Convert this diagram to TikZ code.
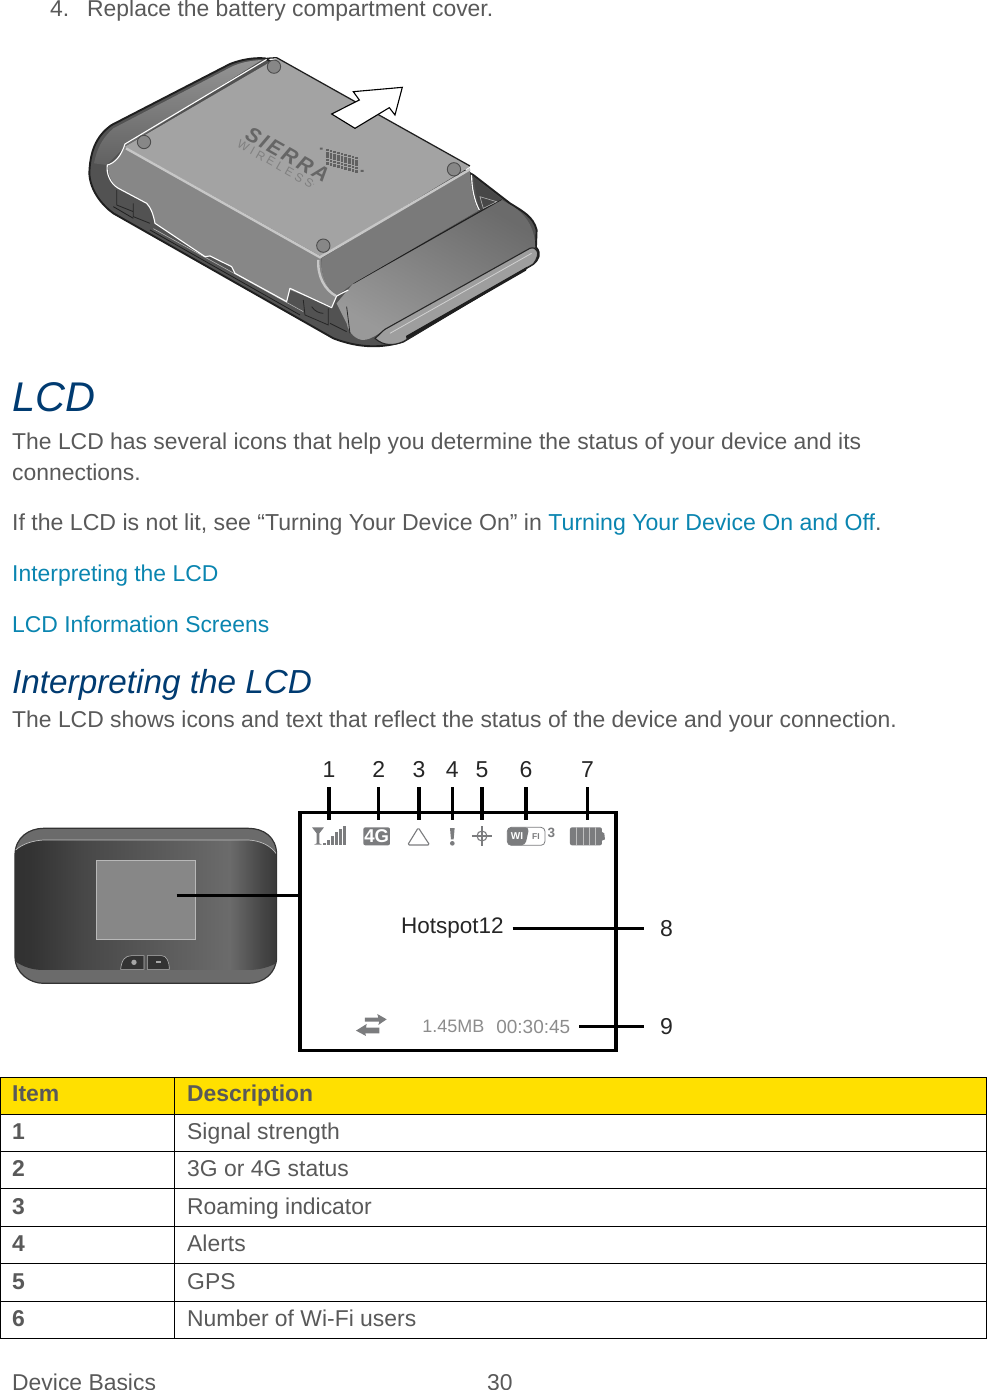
\documentclass[tikz,border=0pt]{standalone}
\usepackage{fontspec}
\setmainfont{Liberation Sans}
\usetikzlibrary{calc}
\definecolor{txt}{HTML}{595959}
\definecolor{head}{HTML}{003B71}
\definecolor{linkc}{HTML}{0A85B0}
\definecolor{yel}{HTML}{FFE000}
\definecolor{icon}{HTML}{7B7C7E}
\pgfdeclarehorizontalshading{devshade}{100bp}{
 color(0bp)=(black!85);color(28bp)=(black!80);color(38bp)=(black!72);color(58bp)=(black!62);color(66bp)=(black!58);color(72bp)=(black!72);color(76bp)=(black!80);color(100bp)=(black!90)}
\tikzset{
 body/.style={anchor=base west,inner sep=0pt,text=txt,font=\fontsize{22.9}{28}\selectfont},
 linkt/.style={body,text=linkc},
 h1t/.style={anchor=base west,inner sep=0pt,text=head,font=\fontsize{41.5}{44}\selectfont\itshape},
 h2t/.style={anchor=base west,inner sep=0pt,text=head,font=\fontsize{33.3}{38}\selectfont\itshape},
 cellb/.style={body,font=\fontsize{22.9}{28}\selectfont\bfseries},
 calln/.style={inner sep=0pt,text=black!85,font=\fontsize{23}{26}\selectfont},
 callout/.style={line width=3.6pt,black},
 grid/.style={line width=1pt,black},
 lcdt/.style={inner sep=0pt,text=black!45,font=\fontsize{19}{22}\selectfont},
 screw/.style={fill=black!47,draw=black!70,line width=.9pt},
 edgew/.style={white,line width=1.1pt,line join=round},
 ridge/.style={black!22,line width=2.4pt},
}
\begin{document}
\begin{tikzpicture}[x=1pt,y=-1pt]
\useasboundingbox (0,0) rectangle (987,1390);
\clip (0,0) rectangle (987,1390);
\fill[white] (0,0) rectangle (987,1390);
% --- page text
\node[body] (item4) at (50,16) {4.};
\node[body] (item4t) at (87,16) {Replace the battery compartment cover.};
\node[h1t] (lcdh) at (12,411) {LCD};
\node[body] (p1) at (12,449) {The LCD has several icons that help you determine the status of your device and its};
\node[body] (p1b) at (12,480) {connections.};
\node[body,font=\fontsize{23.1}{28}\selectfont] (p2) at (12,530) {If the LCD is not lit, see “Turning Your Device On” in \textcolor{linkc}{Turning Your Device On and Off}.};
\node[linkt] (l1) at (12,581) {Interpreting the LCD};
\node[linkt] (l2) at (12,632) {LCD Information Screens};
\node[h2t] (inth) at (12,693) {Interpreting the LCD};
\node[body] (p3) at (12,727) {The LCD shows icons and text that reflect the status of the device and your connection.};
% --- device, back view
\begin{scope}[shift={(70,40)},x=.3333pt,y=-.3333pt]
 \path[fill=black!68,draw=black!88,line width=1.9pt,line join=round] (585,55)
   .. controls (550,52) and (510,60) .. (480,72) -- (125,255)
   .. controls (75,290) and (60,340) .. (58,400)
   .. controls (60,450) and (95,495) .. (130,520) -- (790,895)
   .. controls (850,918) and (920,930) .. (1000,905) -- (1390,672)
   .. controls (1405,660) and (1415,640) .. (1398,622)
   -- (1400,570) .. controls (1390,530) and (1360,515) .. (1320,490) -- (1210,405) -- cycle;
 % lighter left band
 \shade[top color=black!42,bottom color=black!62] (575,60) .. controls (540,62) and (510,68) .. (485,80) -- (130,265)
   .. controls (95,295) and (80,330) .. (72,370) -- (110,375) -- (165,320) -- cycle;
 % lower right panel
 \shade[top color=black!58,bottom color=black!40,shading angle=-30] (850,730) -- (1225,515) -- (1295,480)
   -- (1330,500) .. controls (1375,530) and (1395,570) .. (1396,622)
   -- (945,868) .. controls (920,885) and (905,898) .. (880,900)
   .. controls (860,900) and (835,880) .. (830,850) -- (800,790) -- cycle;
 \draw[black!88,line width=1.2pt] (850,730) -- (1295,478);
 % lip with slot
 \path[fill=black!38,draw=black!85,line width=1.1pt,line join=round] (915,895) .. controls (925,888) and (935,875) .. (945,868) -- (1380,625) .. controls (1400,618) and (1415,640) .. (1390,672) -- (1000,905) .. controls (970,918) and (940,918) .. (915,895) -- cycle;
 \draw[black!18,line width=.8pt] (960,880) -- (1385,640);
 \path[fill=black!88] (1008,888) -- (1372,680) -- (1368,692) -- (1010,898) -- cycle;
 \draw[black!85,line width=.8pt] (830,800) -- (840,880);
 % body lines, lower left
 \draw[black!30,line width=.6pt] (250,566) -- (700,815);
 \draw[black!88,line width=.8pt] (240,570) -- (690,825) (130,500) -- (190,535);
 % latch notch
 \fill[black!72] (1210,410) -- (1295,478) -- (1228,512) -- cycle;
 \draw[black!30,line width=.6pt] (1230,470) -- (1280,485) -- (1240,505) -- cycle;
 % side faces of cover
 \path[fill=black!47] (165,320) -- (755,650)
   .. controls (750,700) and (770,745) .. (800,768)
   -- (785,800) -- (660,750) -- (650,785) -- (495,700) -- (485,680) -- (420,648) -- (405,650)
   -- (255,550) .. controls (250,520) and (240,500) .. (230,490)
   -- (145,445) .. controls (125,430) and (112,400) .. (115,375)
   .. controls (135,370) and (155,345) .. (165,320) -- cycle;
 \path[fill=black!52] (1200,385) -- (755,655) .. controls (750,700) and (770,745) .. (800,768)
   -- (850,730) -- (1225,512) .. controls (1210,480) and (1200,440) .. (1200,385) -- cycle;
 % top face
 \path[fill=black!36] (620,55) -- (1200,380) -- (755,650) -- (165,320) -- cycle;
 % edges
 \draw[edgew] (590,58) -- (165,312) .. controls (155,345) and (135,370) .. (112,375)
   .. controls (108,400) and (120,430) .. (145,445) -- (230,490)
   .. controls (240,500) and (250,520) .. (255,550) -- (405,650) -- (420,648) -- (485,680) -- (495,700)
   -- (650,785) -- (660,745) -- (785,803) -- (800,768) -- (835,750);
 \draw[black!88,line width=1.3pt] (590,55) -- (620,53) -- (1200,378);
 \draw[edgew] (1205,405) .. controls (1205,440) and (1212,480) .. (1228,510);
 \draw[ridge] (168,325) -- (750,652) -- (1200,388);
 \draw[ridge] (745,660) .. controls (742,710) and (765,750) .. (798,768);
 % small details
 \draw[black!85,line width=.8pt] (190,490) -- (190,530) -- (240,550) (140,450) -- (140,495) -- (190,515) (700,780) -- (705,825) -- (775,855) -- (775,805);
 \draw[black!85,line width=.8pt] (725,800) .. controls (735,815) and (750,820) .. (760,820) (780,850) -- (830,875);
 % screws
 \path[screw] (612,80) circle[radius=20];
 \path[screw] (222,306) circle[radius=20];
 \path[screw] (1152,388) circle[radius=20];
 \path[screw] (760,617) circle[radius=20];
 % logo
 \node[rotate=-29.5,inner sep=0pt,text=black!60,font=\fontsize{21}{24}\selectfont\bfseries\itshape] (sierra) at (652,343) {S\kern2.5pt I\kern2.5pt E\kern2.5pt R\kern2.5pt R\kern2.5pt A};
 \node[rotate=-29.5,inner sep=0pt,text=black!50,font=\fontsize{12}{13}\selectfont] (wireless) at (620,374) {W\kern3.3pt I\kern3.3pt R\kern3.3pt E\kern3.3pt L\kern3.3pt E\kern3.3pt S\kern3.3pt S\textsuperscript{.}};
 \foreach \i in {0,...,8} \foreach \j in {0,...,4} {
   \fill[black!62] (768+\i*11,326+\i*3+\j*10) rectangle +(8,8);}
 \fill[black!62] (750,323) rectangle +(8,6) (872,390) rectangle +(9,6);
 % arrow
 \path[fill=white,draw=black,line width=1.1pt,line join=miter] (785,222) -- (868,180) -- (850,155) -- (997,142) -- (975,225) -- (958,203) -- (855,265) -- cycle;
\end{scope}
% --- device, front view
\begin{scope}[shift={(0,750)},x=.3333pt,y=-.3333pt]
 \path[fill=black!58,draw=black!80,line width=1.2pt] (45,315) .. controls (45,260) and (90,235) .. (130,235) -- (745,235) .. controls (790,235) and (830,260) .. (830,315)
   -- (830,620) .. controls (830,670) and (790,700) .. (745,700) -- (130,700) .. controls (90,700) and (45,670) .. (45,620) -- cycle;
 \begin{scope}
  \clip (47,300) .. controls (70,280) and (100,272) .. (130,270) -- (745,270) .. controls (780,272) and (810,285) .. (828,310) -- (828,640) .. controls (800,655) and (770,660) .. (745,660) -- (130,660) .. controls (95,660) and (70,650) .. (47,635) -- cycle;
  \shade[shading=devshade] (45,265) rectangle (830,665);
 \end{scope}
 \draw[black!25,line width=.7pt] (47,300) .. controls (70,280) and (100,272) .. (130,270) -- (745,270) .. controls (780,272) and (810,285) .. (828,310);
 \path[fill=black!47,draw=black!28,line width=.8pt] (290,330) rectangle (585,568);
 \path[fill=black!80,draw=black!30,line width=.6pt] (362,658) .. controls (365,630) and (375,617) .. (395,617) -- (432,617) -- (432,658) -- cycle;
 \path[fill=black!80,draw=black!30,line width=.6pt] (442,658) -- (442,617) -- (485,617) .. controls (500,617) and (508,635) .. (508,658) -- cycle;
 \fill[black!35] (402,637) circle[radius=8];
 \fill[black!35] (467,634) rectangle (483,640);
 \coordinate (scr) at (530,436);
\end{scope}
% --- LCD panel
\begin{scope}[shift={(290,750)},x=.3333pt,y=-.3333pt]
 \node[draw=black,line width=3.4pt,minimum width=316pt,minimum height=238pt,inner sep=0pt] (panel) at (504,545) {};
 \foreach \n/\x in {1/117,2/266,3/387,4/487,5/576,6/708,7/893} {
   \node[calln,anchor=base] (n\n) at (\x,82) {\n};
   \coordinate (ts\n) at (\x,112);
   \coordinate (te\n) at (\x,210);
   \draw[callout] (ts\n) -- (te\n);
 }
 \node[inner sep=0pt,text=black!85,font=\fontsize{22.5}{26}\selectfont] (hot) at (487,535) {Hotspot12};
 \node[calln] (n8) at (1130,535) {8};
 \node[calln] (n9) at (1130,830) {9};
 \coordinate (s8) at (668,535); \coordinate (e8) at (1062,535);
 \coordinate (s9) at (868,830); \coordinate (e9) at (1062,830);
 \draw[callout] (s8) -- (e8);
 \draw[callout] (s9) -- (e9);
 \node[lcdt,font=\fontsize{18}{22}\selectfont] (mb) at (490,830) {1.45MB};
 \node[lcdt] (tm) at (730,830) {00:30:45};
 % signal
 \fill[icon] (66,232) -- (102,232) -- (88,250) -- (88,280) -- (96,284) -- (72,284) -- (80,280) -- (80,250) -- cycle;
 \foreach \i/\h in {0/278,1/270,2/258,3/246,4/236,5/228} \fill[icon] (100+\i*12,\h) rectangle +(7,285-\h);
 % 4G
 \path[fill=icon,rounded corners=2pt] (220,232) rectangle (300,286);
 \node[inner sep=0pt,text=white,font=\fontsize{18.5}{20}\selectfont\bfseries] (fourg) at (260,259) {4G};
 % triangle
 \draw[icon,line width=1.1pt,line join=round,rounded corners=1.5pt] (353,285) -- (385,233) -- (419,285) -- cycle;
 % alert
 \fill[icon] (480,234) -- (494,234) -- (491,268) -- (483,268) -- cycle;
 \fill[icon] (487,280) circle[radius=7];
 % gps
 \draw[icon,line width=1.1pt] (576,258) circle[radius=15];
 \draw[icon,line width=1.3pt] (546,258) -- (606,258) (576,228) -- (576,288);
 % wifi
 \draw[icon,line width=.8pt,rounded corners=4pt] (652,232) rectangle (765,286);
 \path[fill=icon,rounded corners=4pt] (652,232) -- (718,232) -- (706,286) -- (652,286) -- cycle;
 \node[inner sep=0pt,text=white,font=\fontsize{10}{11}\selectfont\bfseries] (wi) at (681,259) {WI};
 \node[inner sep=0pt,text=icon,font=\fontsize{8.5}{10}\selectfont\bfseries] (fi) at (738,259) {FI};
 \node[inner sep=0pt,text=icon,font=\fontsize{13.5}{15}\selectfont\bfseries] (three) at (784,248) {3};
 % battery
 \path[fill=icon,rounded corners=2pt] (840,232) rectangle (936,286);
 \foreach \i in {1,2,3,4} \fill[black!25] (840+\i*19,232) rectangle +(2.5,54);
 \fill[icon] (936,246) -- (943,250) -- (945,268) -- (936,272) -- cycle;
 % arrows
 \fill[icon] (225,803) -- (265,803) -- (262,792) -- (290,808) -- (265,825) -- (268,815) -- (225,815) -- cycle;
 \fill[icon] (268,833) -- (228,833) -- (230,822) -- (198,842) -- (228,858) -- (226,850) -- (268,850) -- cycle;
\end{scope}
\draw[callout] (scr) -- (scr -| panel.west);
% --- table
\fill[yel] (0.5,1077) rectangle (986.5,1114);
\foreach \y in {1077,1114,1151.5,1188.5,1226,1263.5,1301,1338.5} \draw[grid] (0.5,\y) -- (986.5,\y);
\foreach \x in {0.5,174,986.5} \draw[grid] (\x,1077) -- (\x,1338.5);
\node[cellb] (th1) at (12,1101.5) {Item};
\node[cellb] (th2) at (187,1101.5) {Description};
\foreach \n/\y/\t in {1/1139/Signal strength,2/1176.5/3G or 4G status,3/1214/Roaming indicator,4/1251.5/Alerts,5/1289/GPS,6/1326/Number of Wi-Fi users} {
 \node[cellb] (c\n) at (12,\y) {\n};
 \node[body] (d\n) at (187,\y) {\t};
}
% --- footer
\node[body] (foot) at (12,1390) {Device Basics};
\node[body] (page) at (487,1390) {30};
\end{tikzpicture}
\end{document}
